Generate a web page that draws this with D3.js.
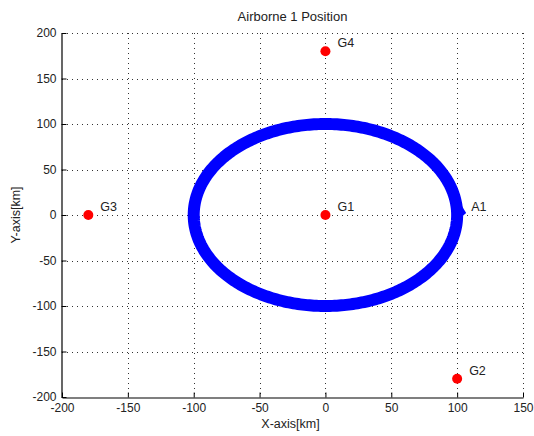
<!DOCTYPE html>
<html>
<head>
<meta charset="utf-8">
<script src="https://cdn.jsdelivr.net/npm/d3@7"></script>
<style>
  html, body { margin: 0; padding: 0; background: #fff; }
  text { font-family: "Liberation Sans", Arial, sans-serif; fill: #222; }
</style>
</head>
<body>
<svg id="chart" width="534" height="436"></svg>
<script>
// Ground stations
const stationNames = ["G1", "G2", "G3", "G4"];
const stationX = [0, 100, -180, 0];
const stationY = [0, -180, 0, 180];

// Airborne platform A1 on its circular track
const trackRadius = 100;
const trackCenter = [0, 0];
const airborneName = "A1";
const airborneX = 100;
const airborneY = 0;

// Axis ticks
const xTicks = [-200, -150, -100, -50, 0, 50, 100, 150];
const yTicks = [-200, -150, -100, -50, 0, 50, 100, 150, 200];

const svg = d3.select("#chart");
const plotLeft = 62, plotRight = 523, plotTop = 33, plotBottom = 397;

const x = d3.scaleLinear().domain([-200, 150]).range([plotLeft, plotRight]);
const y = d3.scaleLinear().domain([-200, 200]).range([plotBottom, plotTop]);

// Dotted grid
const grid = svg.append("g");
grid.selectAll("line.gx").data(xTicks.slice(1)).join("line")
  .attr("x1", d => Math.round(x(d)) + 0.5).attr("x2", d => Math.round(x(d)) + 0.5)
  .attr("y1", plotTop).attr("y2", plotBottom)
  .attr("stroke", "#333").attr("stroke-width", 1).attr("stroke-dasharray", "1,4");
grid.selectAll("line.gy").data(yTicks.slice(1)).join("line")
  .attr("y1", d => Math.round(y(d)) + 0.5).attr("y2", d => Math.round(y(d)) + 0.5)
  .attr("x1", plotLeft).attr("x2", plotRight)
  .attr("stroke", "#333").attr("stroke-width", 1).attr("stroke-dasharray", "1,4");

// Axes with inward ticks, plain hyphen minus signs
const fmt = d => String(d);
const xAxis = d3.axisBottom(x).tickValues(xTicks).tickFormat(fmt).tickSizeInner(-5).tickSizeOuter(0).tickPadding(6);
const yAxis = d3.axisLeft(y).tickValues(yTicks).tickFormat(fmt).tickSizeInner(-5).tickSizeOuter(0).tickPadding(5);

const gx = svg.append("g").attr("transform", `translate(0,${plotBottom + 0.5})`).call(xAxis);
const gy = svg.append("g").attr("transform", `translate(${plotLeft - 0.5},0)`).call(yAxis);
[gx, gy].forEach(g => {
  g.select(".domain").attr("stroke", "#000").attr("stroke-width", 1.2);
  g.selectAll(".tick line").attr("stroke", "#000");
  g.selectAll(".tick text").attr("font-size", 12).attr("fill", "#222")
    .attr("font-family", "'Liberation Sans', Arial, sans-serif");
});

// Circular track (appears elliptical with unequal axis scaling)
const angles = d3.range(0, 361, 1);
const line = d3.line()
  .x(a => x(trackCenter[0] + trackRadius * Math.cos(a * Math.PI / 180)))
  .y(a => y(trackCenter[1] + trackRadius * Math.sin(a * Math.PI / 180)));
svg.append("path").datum(angles)
  .attr("d", line).attr("fill", "none")
  .attr("stroke", "#0000ff").attr("stroke-width", 12);

// Heading arrow at the platform position
const ax = x(airborneX), ay = y(airborneY);
svg.append("path")
  .attr("d", `M${ax + 2},${ay + 4} L${ax + 9},${ay - 2} L${ax + 3},${ay - 12} Z`)
  .attr("fill", "#0000ff");
svg.append("text").attr("x", ax + 14).attr("y", ay - 4)
  .attr("font-size", 12.5).text(airborneName);

// Ground stations
const stations = stationNames.map((n, i) => ({ name: n, x: stationX[i], y: stationY[i] }));
svg.selectAll("circle.st").data(stations).join("circle")
  .attr("cx", d => x(d.x)).attr("cy", d => y(d.y)).attr("r", 5)
  .attr("fill", "#ff0000");
svg.selectAll("text.st").data(stations).join("text")
  .attr("x", d => x(d.x) + 12).attr("y", d => y(d.y) - 4)
  .attr("font-size", 12.5).text(d => d.name);

// Title and axis labels
svg.append("text").attr("x", (plotLeft + plotRight) / 2).attr("y", 21)
  .attr("text-anchor", "middle").attr("font-size", 13).text("Airborne 1 Position");
svg.append("text").attr("x", (plotLeft + plotRight) / 2 - 2).attr("y", 428)
  .attr("text-anchor", "middle").attr("font-size", 12.5).text("X-axis[km]");
svg.append("text").attr("transform", `translate(20,${(plotTop + plotBottom) / 2}) rotate(-90)`)
  .attr("text-anchor", "middle").attr("font-size", 12.5).text("Y-axis[km]");
</script>
</body>
</html>
